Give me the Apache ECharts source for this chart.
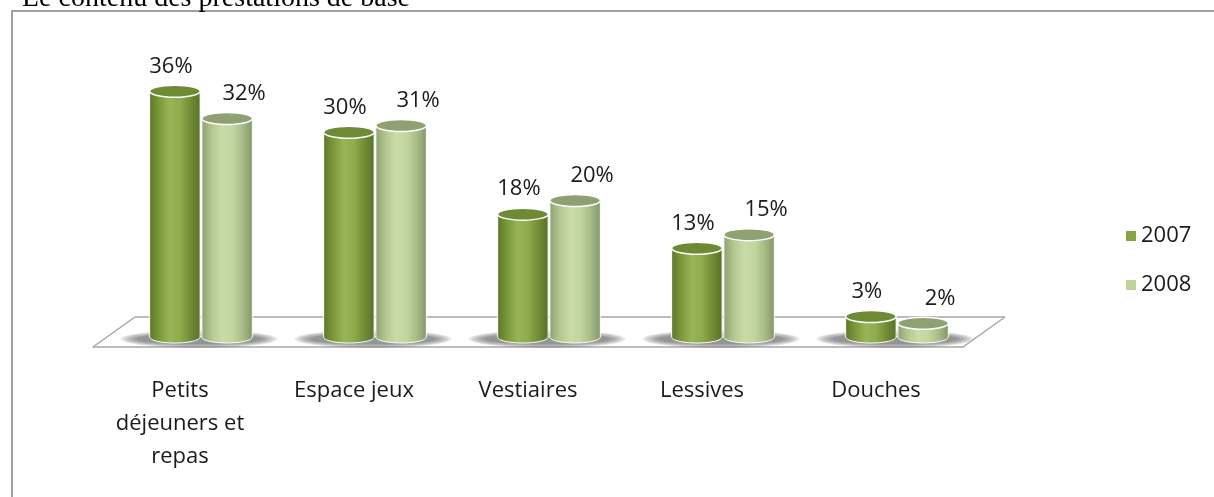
<!DOCTYPE html>
<html>
<head>
<meta charset="utf-8">
<script src="https://cdn.jsdelivr.net/npm/echarts@6/dist/echarts.min.js"></script>
<style>
  html, body { margin: 0; padding: 0; background: #fff; }
  #chart { width: 1214px; height: 497px; }
</style>
</head>
<body>
<div id="chart"></div>
<script>
const categories = ['Petits\ndéjeuners et\nrepas', 'Espace jeux', 'Vestiaires', 'Lessives', 'Douches'];
const values2007 = [36, 30, 18, 13, 3];
const values2008 = [32, 31, 20, 15, 2];
const seriesNames = ['2007', '2008'];

const textFont = '"Open Sans", "Noto Sans", sans-serif';
const lineGray = '#a6a6a6';

// cylinder shading, left to right
function sideGrad(stops) {
  return new echarts.graphic.LinearGradient(0, 0, 1, 0, stops.map((c, k) => ({ offset: k / (stops.length - 1), color: c })));
}
const body2007 = ['#5d782a', '#7d9a3b', '#97b457', '#8eab4e', '#728e34', '#58722a'];
const body2008 = ['#8fa272', '#b3c890', '#c9dca8', '#c2d6a0', '#a9bd88', '#84976a'];

function cylinder(bodyStops, topColor, shift, labelDx) {
  return function (params, api) {
    const i = api.value(0);
    const v = api.value(1);
    const band = api.size([1, 0])[0];
    const base = api.coord([i, 0]);
    const peak = api.coord([i, v]);
    const w = band * 0.29;
    const cx = base[0] + band * shift;
    const x0 = cx - w / 2, x1 = cx + w / 2;
    const ry = 6;
    return {
      type: 'group',
      children: [
        { type: 'ellipse', shape: { cx: cx, cy: base[1], rx: w / 2, ry: ry },
          style: { fill: sideGrad(bodyStops), stroke: '#fff', lineWidth: 1 } },
        { type: 'rect', shape: { x: x0, y: peak[1], width: w, height: base[1] - peak[1] },
          style: { fill: sideGrad(bodyStops) } },
        { type: 'polyline', shape: { points: [[x0, peak[1]], [x0, base[1]]] },
          style: { stroke: '#fff', lineWidth: 1, fill: null } },
        { type: 'polyline', shape: { points: [[x1, peak[1]], [x1, base[1]]] },
          style: { stroke: '#fff', lineWidth: 1, fill: null } },
        { type: 'ellipse', shape: { cx: cx, cy: peak[1], rx: w / 2, ry: ry },
          style: { fill: topColor, stroke: '#fff', lineWidth: 1.5 } },
        { type: 'text', style: { x: cx + labelDx, y: peak[1] - 14, text: v + '%',
          align: 'center', verticalAlign: 'bottom', fontSize: 22, fontFamily: textFont, fill: '#1a1a1a' } }
      ]
    };
  };
}

function floor(params, api) {
  const i = api.value(0);
  const band = api.size([1, 0])[0];
  const c = api.coord([i, 0]);
  const xa = c[0] - band / 2, xb = c[0] + band / 2;
  const depth = 21, back = c[1] - 20, front = c[1] + 10;
  const kids = [];
  // soft shadow under the pair, built from stacked translucent ellipses
  for (let k = 0; k < 6; k++) {
    kids.push({ type: 'ellipse',
      shape: { cx: c[0] - 2, cy: c[1] + 2, rx: band * (0.45 - k * 0.018), ry: 9 - k * 0.8 },
      style: { fill: 'rgba(70,70,70,0.13)' } });
  }
  kids.push({ type: 'polyline', shape: { points: [[xa + depth, back], [xb + depth, back]] },
    style: { stroke: lineGray, lineWidth: 1.5, fill: null } });
  if (i === 0) {
    kids.push({ type: 'polyline', shape: { points: [[xa - depth, front], [xa + depth, back]] },
      style: { stroke: lineGray, lineWidth: 1.5, fill: null } });
  }
  if (i === categories.length - 1) {
    kids.push({ type: 'polyline', shape: { points: [[xb - depth, front], [xb + depth, back]] },
      style: { stroke: lineGray, lineWidth: 1.5, fill: null } });
  }
  return { type: 'group', children: kids };
}

const chart = echarts.init(document.getElementById('chart'), null, { renderer: 'canvas' });

const option = {
  backgroundColor: '#fff',
  animation: false,
  title: {
    text: 'Le contenu des prestations de base',
    left: 22,
    top: -15,
    padding: 0,
    textStyle: { fontFamily: '"Liberation Serif", serif', fontSize: 28, fontWeight: 'normal', color: '#000' }
  },
  graphic: [{
    type: 'polyline',
    shape: { points: [[12, 497], [12, 11], [1214, 11]] },
    style: { stroke: '#a0a0a0', lineWidth: 2, fill: null }
  }],
  legend: {
    data: seriesNames,
    orient: 'vertical',
    left: 1121,
    top: 220,
    icon: 'rect',
    itemWidth: 10,
    itemHeight: 10,
    itemGap: 27,
    textStyle: { fontSize: 22, fontFamily: textFont, color: '#1a1a1a' }
  },
  grid: [
    { left: 114, width: 870, top: 64, height: 273 },
    { left: 93, width: 870, top: 200, height: 147 }
  ],
  xAxis: [
    { type: 'category', data: categories, gridIndex: 0, show: false },
    { type: 'category', data: categories, gridIndex: 1,
      axisLine: { lineStyle: { color: lineGray, width: 1.5 } },
      axisTick: { length: 10, lineStyle: { color: lineGray, width: 1.5 } },
      axisLabel: { interval: 0, margin: 27, fontSize: 22, lineHeight: 33, fontFamily: textFont, color: '#1a1a1a' } }
  ],
  yAxis: [
    { type: 'value', min: 0, max: 40, gridIndex: 0, show: false },
    { type: 'value', min: 0, max: 1, gridIndex: 1, show: false }
  ],
  series: [
    { type: 'custom', name: 'floor', z: 1, silent: true, xAxisIndex: 0, yAxisIndex: 0,
      renderItem: floor, data: categories.map((c, i) => [i, 0]) },
    { type: 'custom', name: seriesNames[0], z: 2, xAxisIndex: 0, yAxisIndex: 0,
      itemStyle: { color: '#86a346' },
      encode: { x: 0, y: 1 },
      renderItem: cylinder(body2007, '#6f8a35', -0.15, -4),
      data: values2007.map((v, i) => [i, v]) },
    { type: 'custom', name: seriesNames[1], z: 3, xAxisIndex: 0, yAxisIndex: 0,
      itemStyle: { color: '#bcd39a' },
      encode: { x: 0, y: 1 },
      renderItem: cylinder(body2008, '#8fa072', 0.15, 17),
      data: values2008.map((v, i) => [i, v]) }
  ]
};

chart.setOption(option);
window.addEventListener('resize', chart.resize);
</script>
</body>
</html>
